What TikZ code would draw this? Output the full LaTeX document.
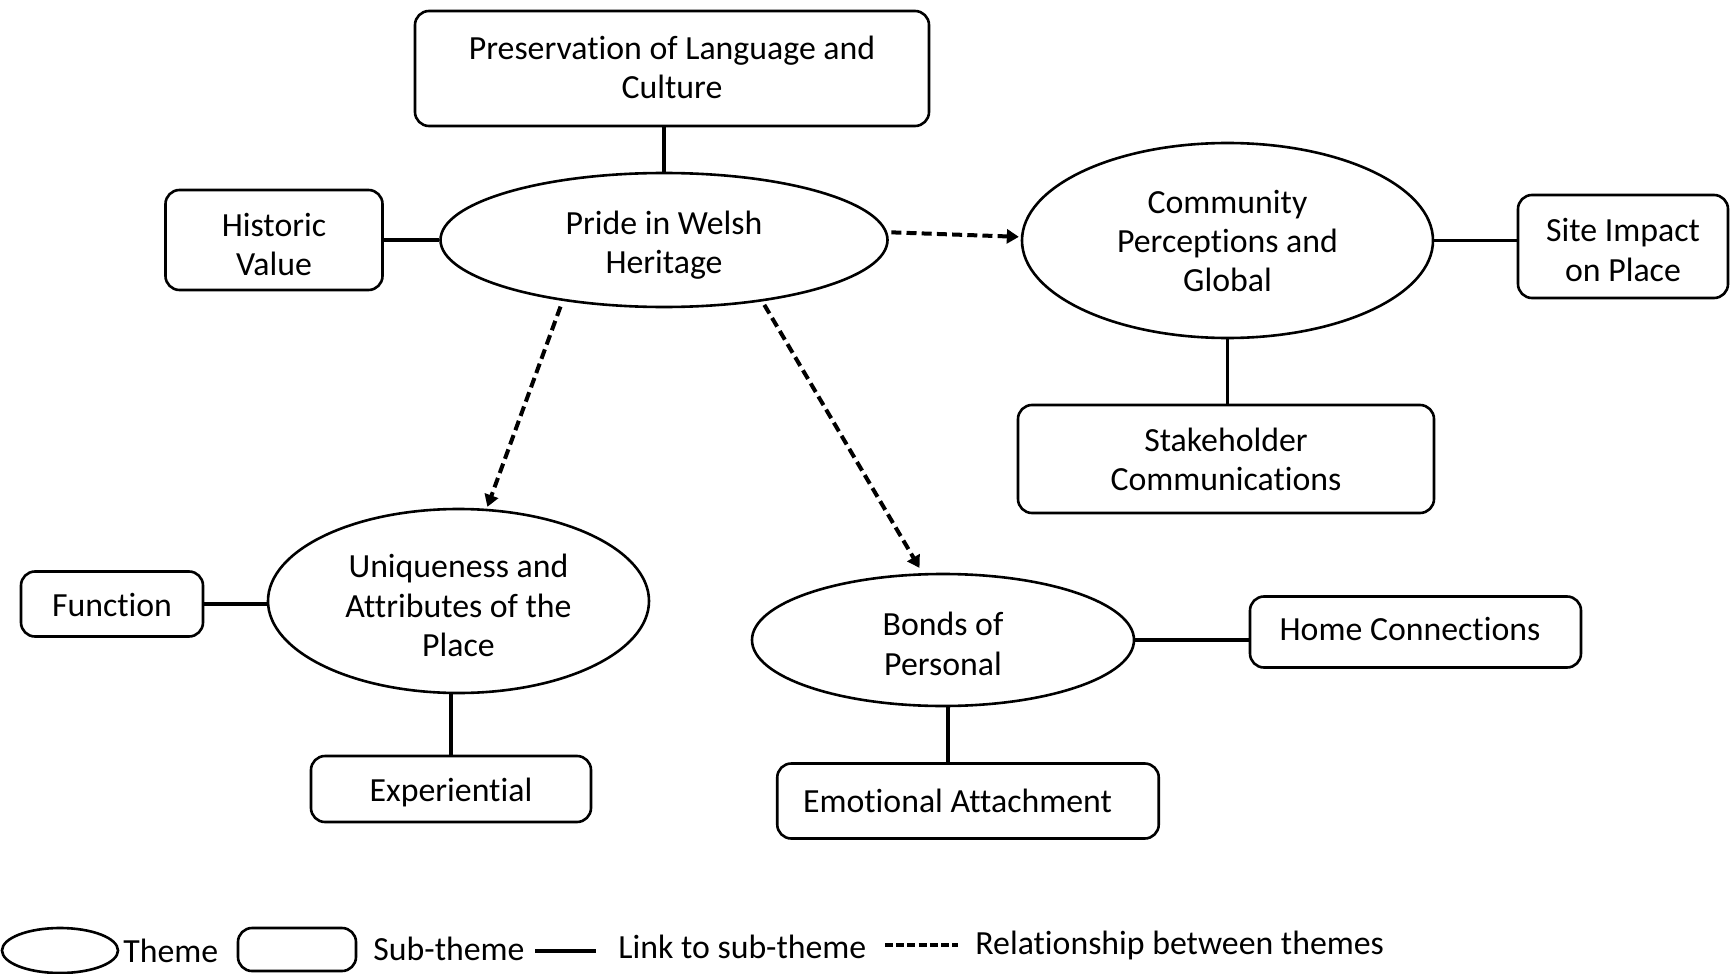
\documentclass[tikz,border=0pt]{standalone}
\usepackage{fontspec}
\setmainfont{Carlito}[Ligatures=NoCommon]
\usetikzlibrary{shapes.geometric,arrows.meta}
\newcommand\tdn[1]{\rule{0pt}{#1}}
\newcommand\tupp[1]{\rule[-#1]{0pt}{0pt}}
\begin{document}
\begin{tikzpicture}[x=0.5pt,y=-0.5pt,
 every node/.style={font=\fontsize{16.9}{19.6}\selectfont, align=center},
 theme/.style={draw, ellipse, line width=1.3pt, inner sep=0pt},
 sub/.style={draw, rectangle, rounded corners=7pt, line width=1.3pt, inner sep=0pt},
 link/.style={line width=1.6pt},
 rel/.style={line width=2pt, dash pattern=on 5pt off 2.6pt, -{Triangle[length=6pt,width=7pt]}},
 legtext/.style={anchor=west, inner sep=0pt}]
\useasboundingbox (0,0) rectangle (1730,974);

\node[sub, minimum width=257pt, minimum height=57.5pt] (pres) at (672,68.5) {Preservation of Language and\\Culture\tupp{1pt}};
\node[sub, minimum width=108.5pt, minimum height=50pt] (hist) at (274,240) {\tdn{15.8pt}Historic\\Value};
\node[theme, minimum width=223.5pt, minimum height=67pt] (pride) at (664,240) {\tdn{16.9pt}Pride in Welsh\\Heritage};
\node[theme, minimum width=205.5pt, minimum height=97.5pt] (comm) at (1227.5,240.5) {\tdn{12.4pt}Community\\Perceptions and\\Global};
\node[sub, minimum width=105pt, minimum height=51.5pt] (site) at (1623,246.5) {\tdn{15.2pt}Site Impact\\on Place};
\node[sub, minimum width=208pt, minimum height=54pt] (stake) at (1226,459) {Stakeholder\\Communications};
\node[theme, minimum width=190.5pt, minimum height=92pt] (uniq) at (458.5,601) {\tdn{16.3pt}Uniqueness and\\Attributes of the\\Place};
\node[sub, minimum width=91pt, minimum height=32.5pt] (func) at (112,604) {\tdn{12.4pt}Function};
\node[sub, minimum width=140pt, minimum height=33pt] (exp) at (451,789) {\tdn{15.1pt}Experiential};
\node[theme, minimum width=191pt, minimum height=66pt] (bonds) at (943,640) {\tdn{15.7pt}Bonds of\\Personal};
\node[sub, minimum width=165.5pt, minimum height=35.5pt] (home) at (1415.5,632) {Home Connections\hspace*{5.5pt}\tupp{3.2pt}};
\node[sub, minimum width=190.75pt, minimum height=37.5pt] (emo) at (968,801) {Emotional Attachment\hspace*{10.5pt}};

% links to sub-themes
\draw[link] (pride.north |- pres.south) -- (pride.north);
\draw[link] (hist.east) -- (pride.west);
\draw[link] (comm.east) -- (site.west |- comm.east);
\draw[link] (comm.south) -- (comm.south |- stake.north);
\draw[link] (func.east) -- (uniq.west |- func.east);
\draw[link] (exp.north) -- (exp.north |- uniq.south);
\draw[link] (bonds.east) -- (home.west |- bonds.east);
\draw[link] ([xshift=2.5pt]bonds.south) -- ([xshift=2.5pt]bonds.south |- emo.north);

% relationships between themes
\draw[rel, shorten <=2pt, shorten >=1pt] (pride.2) -- (comm.179);
\draw[rel, shorten <=3pt, shorten >=1pt] (pride.211) -- (uniq.73.5);
\draw[rel, shorten <=2pt, shorten >=3pt] (pride.-32.6) -- (bonds.107.7);

% legend
\node[theme, minimum width=58pt, minimum height=22.5pt] (lth) at (60,950.5) {};
\node[legtext] (lthtext) at (123,951) {Theme};
\node[sub, minimum width=59pt, minimum height=21.5pt] (lsub) at (297,949.5) {};
\node[legtext] (lsubtext) at (373,949) {Sub-theme};
\coordinate (la) at (535,951);
\coordinate (lb) at (596,951);
\draw[line width=2pt] (la) -- (lb);
\node[legtext] (llink) at (618,947) {Link to sub-theme};
\coordinate (lc) at (885,945);
\coordinate (ld) at (958,945);
\draw[line width=1.8pt, dash pattern=on 4pt off 1.6pt] (lc) -- (ld);
\node[legtext] (lrel) at (975,945) {Relationship between themes};
\end{tikzpicture}
\end{document}
